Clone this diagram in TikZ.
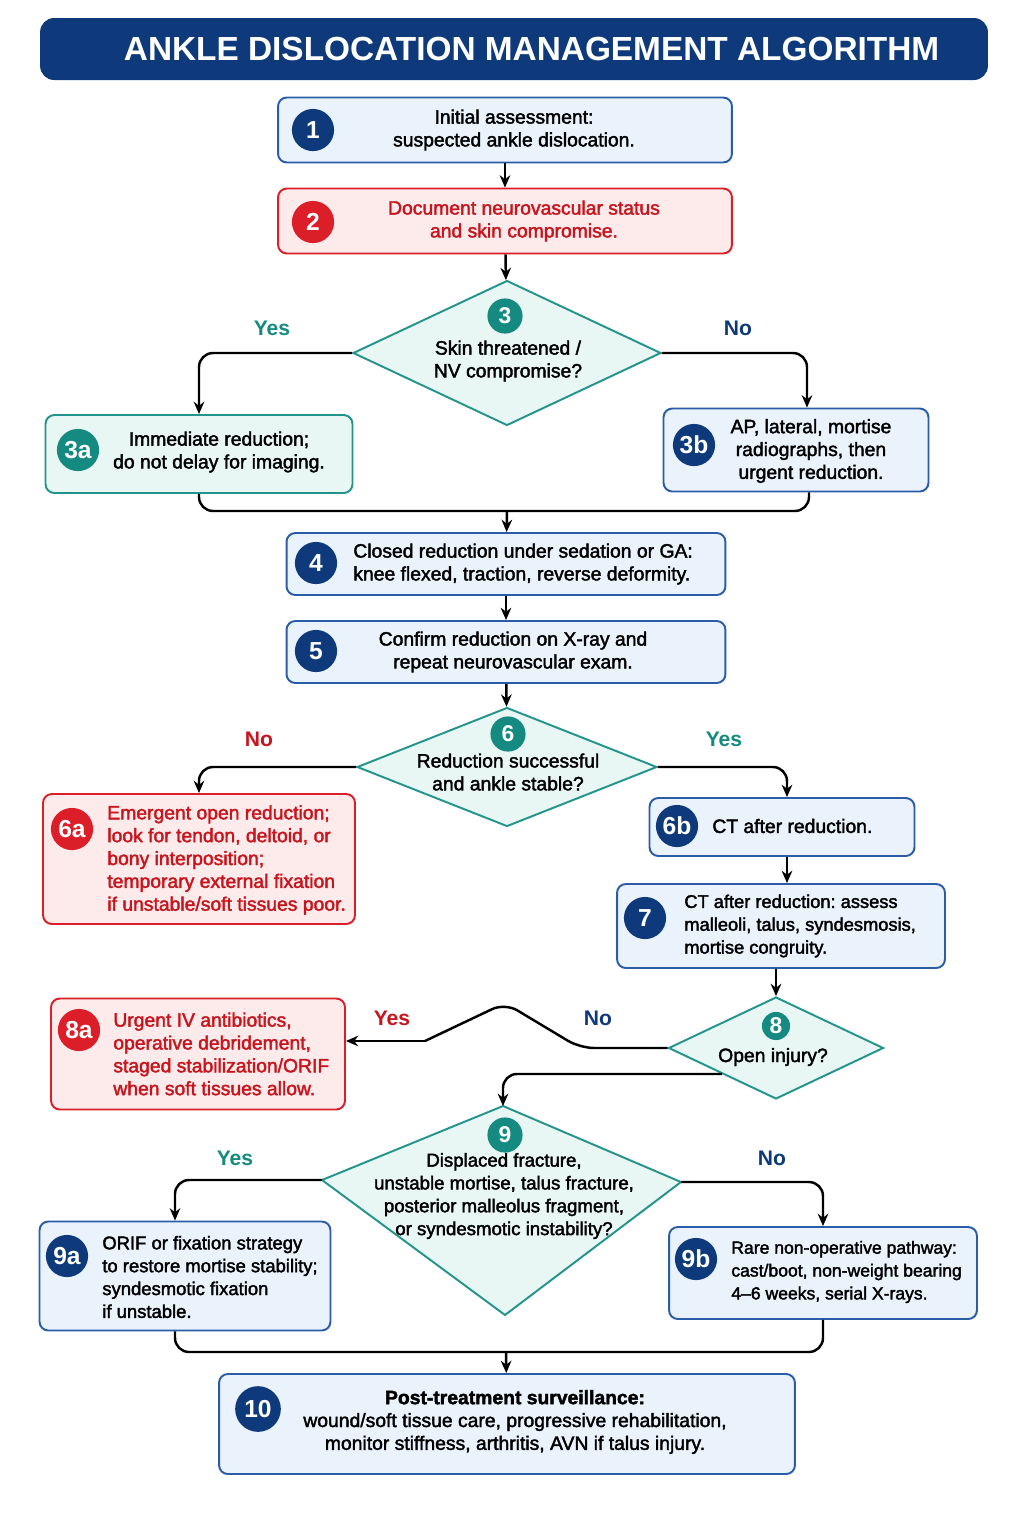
\documentclass[tikz,border=0pt]{standalone}
\usepackage{fontspec}
\setmainfont{Liberation Sans}
\newfontfamily\bodyfont{Liberation Sans}[FakeBold=2]
\usetikzlibrary{shapes}
\usetikzlibrary{arrows.meta}
\usetikzlibrary{positioning}
\usetikzlibrary{calc}

\definecolor{navy}{HTML}{0E3A7B}
\definecolor{boxblue}{HTML}{2A5CA8}
\definecolor{fillblue}{HTML}{EAF2FC}
\definecolor{boxred}{HTML}{DC1E28}
\definecolor{fillred}{HTML}{FDEBEC}
\definecolor{txtred}{HTML}{C8141C}
\definecolor{boxteal}{HTML}{23948C}
\definecolor{fillteal}{HTML}{E8F6F4}
\definecolor{numteal}{HTML}{158A80}

\frenchspacing
\begin{document}
\begin{tikzpicture}[
        x=0.02cm, y=-0.02cm,
        every node/.style={font=\bodyfont\fontsize{11}{13}\selectfont},
        titlebar/.style = {fill=navy, rounded corners=8pt,
                           minimum width=18.96cm, minimum height=1.24cm,
                           text=white, font=\bfseries\fontsize{19}{19}\selectfont},
        bluebox/.style 2 args = {draw=boxblue, fill=fillblue, line width=1.1pt,
                            rounded corners=5pt, minimum width=#1, minimum height=#2},
        redbox/.style 2 args = {bluebox={#1}{#2}, draw=boxred, fill=fillred},
        tealbox/.style 2 args = {bluebox={#1}{#2}, draw=boxteal, fill=fillteal},
        decision/.style 2 args = {draw=boxteal, fill=fillteal, diamond, line width=1.1pt,
                            inner sep=0pt, minimum width=#1, minimum height=#2},
        numblue/.style = {circle, fill=navy, text=white, inner sep=0pt,
                          minimum size=24pt, font=\bfseries\fontsize{14}{14}\selectfont},
        numred/.style = {numblue, fill=boxred},
        numteal/.style = {numblue, fill=numteal},
        numdec/.style = {numteal, minimum size=20pt, font=\bfseries\fontsize{13}{13}\selectfont},
        txt/.style = {inner sep=0pt, align=center},
        txtl/.style = {inner sep=0pt, align=left, anchor=west},
        small/.style = {font=\bodyfont\fontsize{#1}{13}\selectfont},
        branch/.style = {font=\bfseries\fontsize{12}{12}\selectfont},
        line/.style = {line width=1.4pt, rounded corners=8pt},
        arr/.style = {line, -{Stealth[length=7pt, width=6pt]}}
        ]
        \fill[white] (0,0) rectangle (1024,1536);
        \useasboundingbox (0,0) rectangle (1024,1536);

        \node[titlebar] (title) at (514,49) {\hspace*{20pt}ANKLE DISLOCATION MANAGEMENT ALGORITHM};

        % steps 1 and 2
        \node[bluebox={9.08cm}{1.30cm}] (step1) at (505,130) {};
        \node[numblue] (n1) at (313,130) {1};
        \node[txt] (t1) at (514,130) {Initial assessment:\\suspected ankle dislocation.};

        \node[redbox={9.08cm}{1.30cm}] (step2) at (505,221) {};
        \node[numred] (n2) at (313,222) {2};
        \node[txt, text=txtred] (t2) at (524,221) {Document neurovascular status\\and skin compromise.};

        % decision 3
        \node[decision={6.16cm}{2.90cm}] (dec3) at (507,353) {};
        \node[numdec] (n3) at (505,316) {3};
        \node[txt] (t3) at (508,361) {Skin threatened /\\NV compromise?};

        \node[tealbox={6.14cm}{1.56cm}] (step3a) at (199,454) {};
        \node[numteal] (n3a) at (78,450) {3a};
        \node[txt] (t3a) at (219,452) {Immediate reduction;\\do not delay for imaging.};

        \node[bluebox={5.30cm}{1.66cm}] (step3b) at (796,450) {};
        \node[numblue] (n3b) at (694,445) {3b};
        \node[txt] (t3b) at (811,451) {AP, lateral, mortise\\radiographs, then\\urgent reduction.};

        % steps 4 and 5
        \node[bluebox={8.78cm}{1.24cm}] (step4) at (506,564) {};
        \node[numblue] (n4) at (316,563) {4};
        \node[txtl] (t4) at (353,564) {Closed reduction under sedation or GA:\\knee flexed, traction, reverse deformity.};

        \node[bluebox={8.78cm}{1.24cm}] (step5) at (506,652) {};
        \node[numblue] (n5) at (316,651) {5};
        \node[txt] (t5) at (513,652) {Confirm reduction on X-ray and\\repeat neurovascular exam.};

        % decision 6
        \node[decision={6.00cm}{2.38cm}] (dec6) at (507,767) {};
        \node[numdec] (n6) at (508,734) {6};
        \node[txt] (t6) at (508,772) {Reduction successful\\and ankle stable?};

        \node[redbox={6.24cm}{2.60cm}] (step6a) at (199,859) {};
        \node[numred] (n6a) at (72,829) {6a};
        \node[txtl, text=txtred] (t6a) at (107,860) {Emergent open reduction;\\look for tendon, deltoid, or\\bony interposition;\\temporary external fixation\\if unstable/soft tissues poor.};

        \node[bluebox={5.30cm}{1.16cm}] (step6b) at (782,827) {};
        \node[numblue] (n6b) at (677,826) {6b};
        \node[txtl] (t6b) at (712,826) {CT after reduction.};

        \node[bluebox={6.56cm}{1.68cm}] (step7) at (781,926) {};
        \node[numblue] (n7) at (645,918) {7};
        \node[txtl, small=10.4] (t7) at (684,926) {CT after reduction: assess\\malleoli, talus, syndesmosis,\\mortise congruity.};

        % decision 8
        \node[decision={4.30cm}{2.04cm}] (dec8) at (776,1048) {};
        \node[numdec, minimum size=16pt] (n8) at (776,1026) {8};
        \node[txt] (t8) at (773,1057) {Open injury?};

        \node[redbox={5.88cm}{2.22cm}] (step8a) at (198,1054) {};
        \node[numred] (n8a) at (79,1030) {8a};
        \node[txtl, text=txtred] (t8a) at (113,1054) {Urgent IV antibiotics,\\operative debridement,\\staged stabilization/ORIF\\when soft tissues allow.};

        % decision 9 (skewed diamond)
        \filldraw[draw=boxteal, fill=fillteal, line width=1.1pt]
            (503,1106) coordinate (d9n) -- (681,1182) coordinate (d9e)
            -- (505,1315) coordinate (d9s) -- (322,1180) coordinate (d9w) -- cycle;
        \node[numdec] (n9) at (505,1135) {9};
        \node[txt, small=10.6] (t9) at (504,1196) {Displaced fracture,\\unstable mortise, talus fracture,\\posterior malleolus fragment,\\or syndesmotic instability?};

        \node[bluebox={5.82cm}{2.18cm}] (step9a) at (185,1276) {};
        \node[numblue] (n9a) at (67,1256) {9a};
        \node[txtl, small=10.5] (t9a) at (102,1277) {ORIF or fixation strategy\\to restore mortise stability;\\syndesmotic fixation\\if unstable.};

        \node[bluebox={6.16cm}{1.84cm}] (step9b) at (823,1273) {};
        \node[numblue] (n9b) at (696,1259) {9b};
        \node[txtl, small=10] (t9b) at (731,1272) {Rare non-operative pathway:\\cast/boot, non-weight bearing\\4–6 weeks, serial X-rays.};

        % step 10
        \node[bluebox={11.52cm}{2.00cm}] (step10) at (507,1424) {};
        \node[numblue, minimum size=26pt] (n10) at (258,1409) {10};
        \node[txt] (t10) at (515,1422) {\textbf{Post-treatment surveillance:}\\wound/soft tissue care, progressive rehabilitation,\\monitor stiffness, arthritis, AVN if talus injury.};

        % branch labels
        \node[branch, text=numteal] (yes3) at (272,328) {Yes};
        \node[branch, text=navy] (no3) at (738,328) {No};
        \node[branch, text=txtred] (no6) at (259,739) {No};
        \node[branch, text=numteal] (yes6) at (724,739) {Yes};
        \node[branch, text=txtred] (yes8) at (392,1018) {Yes};
        \node[branch, text=navy] (no8) at (598,1018) {No};
        \node[branch, text=numteal] (yes9) at (235,1158) {Yes};
        \node[branch, text=navy] (no9) at (772,1158) {No};

        % connectors
        \coordinate (m4) at (507,511);
        \coordinate (m10) at (506,1352);
        \coordinate (k1) at (580,1045);
        \coordinate (k2) at (505,1003);
        \coordinate (k3) at (425,1041);

        \draw[arr] (step1) -- (step2);
        \draw[arr] (step2) -- (dec3);
        \draw[arr] (dec3.west) -| (step3a.north);
        \draw[arr] (dec3.east) -| ([xshift=11*0.02cm]step3b.north);
        \draw[line] (step3a.south) |- (m4) -| ([xshift=13*0.02cm]step3b.south);
        \draw[arr] (m4) -- (step4);
        \draw[arr] (step4) -- (step5);
        \draw[arr] (step5) -- (dec6);
        \draw[arr] (dec6.west) -| (step6a.north);
        \draw[arr] (dec6.east) -| ([xshift=5*0.02cm]step6b.north);
        \draw[arr] ([xshift=5*0.02cm]step6b.south) -- ([xshift=5*0.02cm]step6b.south |- step7.north);
        \draw[arr] (dec8.north |- step7.south) -- (dec8.north);
        \draw[line] (dec8.west) -- (dec8.west -| k1) -- (k2) -- (k3);
        \draw[arr] (k3) -- (k3 -| step8a.east);
        \draw[arr] (dec8.south west) -| (d9n);
        \draw[arr] (d9w) -| ([xshift=-10*0.02cm]step9a.north);
        \draw[arr] (d9e) -| (step9b.north);
        \draw[line] ([xshift=-10*0.02cm]step9a.south) |- (m10) -| (step9b.south);
        \draw[arr] (m10) -- (step10);
    \end{tikzpicture}
\end{document}
